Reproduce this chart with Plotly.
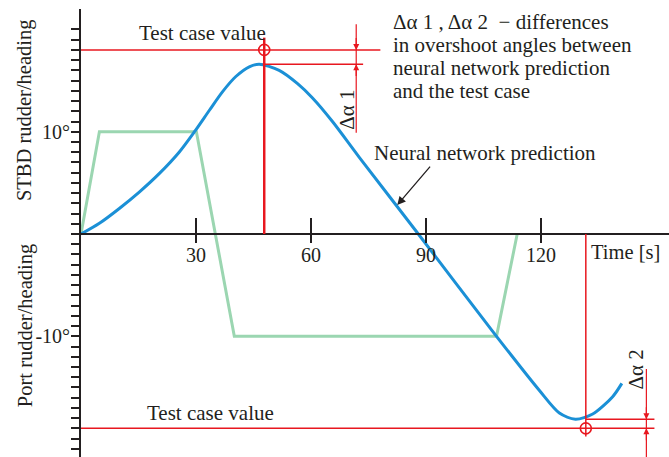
import plotly.graph_objects as go

# Time axis [s] and heading predicted by the neural network [deg]
pred_t = [0, 4.8, 10.0, 15.2, 20.4, 25.6, 29.6, 33.5, 36.9, 40.4, 43.9, 46.5,
          51.7, 56.5, 60.4, 65.6, 72.6, 88.0, 108.4, 119.6, 124.8, 129.0,
          133.5, 138.7, 141.1]
pred_v = [0, 1.05, 2.5, 4.1, 5.9, 8.0, 10.0, 12.1, 13.9, 15.4, 16.35, 16.6,
          16.0, 14.7, 13.3, 11.0, 7.5, 0.0, -10.0, -15.3, -17.5, -18.1,
          -17.6, -15.9, -14.6]

# Rudder command [deg]
rudder_t = [0, 4.8, 30.1, 40.0, 108.4, 113.8]
rudder_v = [0, 10, 10, -10, -10, 0]

# Test case overshoot points (time, value) and predicted extremes
test_t = [47.8, 131.7]
test_v = [18.0, -19.0]
pred_peak = [16.6, -18.1]

x_ticks = [30, 60, 90, 120]
y_labels = {10: "10°", -10: "-10°"}

legend_lines = ["Δα 1 , Δα 2  − differences",
                "in overshoot angles between",
                "neural network prediction",
                "and the test case"]

X_MAX = 153.4
Y_MIN, Y_MAX = -21.8, 22.0

RED = "#e8171f"
INK = "#231f20"
FONT = "Liberation Serif"

fig = go.Figure()

fig.add_trace(go.Scatter(x=rudder_t, y=rudder_v, mode="lines",
                         line=dict(color="#9bd6b1", width=3), hoverinfo="skip"))
fig.add_trace(go.Scatter(x=pred_t, y=pred_v, mode="lines",
                         line=dict(color="#1b90d6", width=3, shape="spline", smoothing=0.8),
                         hoverinfo="skip"))

# Red reference lines for the overshoot comparison
def seg(x0, y0, x1, y1, w=1.5):
    fig.add_shape(type="line", x0=x0, y0=y0, x1=x1, y1=y1, xref="x", yref="y",
                  line=dict(color=RED, width=w))

# first overshoot (starboard)
seg(0, test_v[0], 78.1, test_v[0])
seg(test_t[0] - 0.4, pred_peak[0], 73.6, pred_peak[0])
seg(test_t[0], 0, test_t[0], 19.2, w=2.5)
seg(71.8, 9.9, 71.8, 20.5, w=1.2)
# second overshoot (port)
seg(0, test_v[1], 149.6, test_v[1])
seg(test_t[1], pred_peak[1], 149.6, pred_peak[1])
seg(test_t[1], 0, test_t[1], -19.8, w=1.5)
seg(147.5, -13.2, 147.5, Y_MIN, w=1.2)

fig.add_trace(go.Scatter(x=test_t, y=test_v, mode="markers",
                         marker=dict(symbol="circle-open", size=11, color=RED,
                                     line=dict(color=RED, width=1.6)),
                         hoverinfo="skip"))

# invisible trace that carries the long upper tick marks of the time axis
fig.add_trace(go.Scatter(x=[0], y=[0], xaxis="x2", mode="markers",
                         marker=dict(opacity=0), hoverinfo="skip"))

annotations = []

def text(x, y, s, size=21, xanchor="center", yanchor="middle", angle=0,
         xref="x", yref="y"):
    annotations.append(dict(x=x, y=y, xref=xref, yref=yref, text=s, showarrow=False,
                            xanchor=xanchor, yanchor=yanchor, textangle=angle,
                            font=dict(family=FONT, size=size, color=INK)))

text(31.8, 19.65, "Test case value")
text(33.8, -17.5, "Test case value")
text(105.3, 7.9, "Neural network prediction")
text(132.6, -1.76, "Time [s]", size=20.5, xanchor="left")
for i, line in enumerate(legend_lines):
    text(81.0, 20.72 - i * 2.25, line, xanchor="left")
text(69.5, 12.2, "Δα 1", angle=-90)
text(144.9, -13.2, "Δα 2", angle=-90)
text(-0.095, 0.7746, "STBD rudder/heading", size=20.5, angle=-90, xref="paper", yref="paper")
text(-0.095, 0.2924, "Port rudder/heading", size=20.5, angle=-90, xref="paper", yref="paper")

# pointer to the prediction curve
annotations.append(dict(x=82.5, y=2.83, ax=91.4, ay=6.74, xref="x", yref="y",
                        axref="x", ayref="y", text="", showarrow=True,
                        arrowhead=2, arrowsize=1.3, arrowwidth=1.3, arrowcolor=INK))

# dimension arrowheads for the two differences
for (xx, yy, ay) in [(71.8, test_v[0], test_v[0] + 1.3),
                     (71.8, pred_peak[0], pred_peak[0] - 1.3),
                     (147.5, pred_peak[1], pred_peak[1] + 1.3),
                     (147.5, test_v[1], test_v[1] - 1.3)]:
    annotations.append(dict(x=xx, y=yy, ax=xx, ay=ay, xref="x", yref="y",
                            axref="x", ayref="y", text="", showarrow=True,
                            arrowhead=2, arrowsize=1.0, arrowwidth=1.2, arrowcolor=RED))

y_tickvals = list(range(-21, 21))
y_ticktext = [y_labels.get(v, "") for v in y_tickvals]
zero_pos = (0 - Y_MIN) / (Y_MAX - Y_MIN)

fig.update_layout(
    width=669, height=457,
    margin=dict(l=81, r=0, t=9, b=0),
    paper_bgcolor="white", plot_bgcolor="white",
    showlegend=False,
    annotations=annotations,
    xaxis=dict(range=[0, X_MAX], anchor="free", position=zero_pos,
               tickvals=x_ticks, ticks="outside", ticklen=8, tickwidth=1.5,
               tickcolor=INK, showline=True, linecolor=INK, linewidth=1.8,
               showgrid=False, zeroline=False, ticklabelstandoff=-5,
               tickfont=dict(family=FONT, size=20, color=INK)),
    xaxis2=dict(range=[0, X_MAX], overlaying="x", anchor="free", position=zero_pos,
                tickvals=x_ticks, ticks="inside", ticklen=16, tickwidth=1.5,
                tickcolor=INK, showticklabels=False, showline=False,
                showgrid=False, zeroline=False),
    yaxis=dict(range=[Y_MIN, Y_MAX], tickvals=y_tickvals, ticktext=y_ticktext,
               ticks="outside", ticklen=8, tickwidth=1.5, tickcolor=INK,
               showline=True, linecolor=INK, linewidth=1.8,
               showgrid=False, zeroline=False, ticklabelstandoff=-3,
               tickfont=dict(family=FONT, size=20, color=INK)),
)

fig.write_html("out.html")
